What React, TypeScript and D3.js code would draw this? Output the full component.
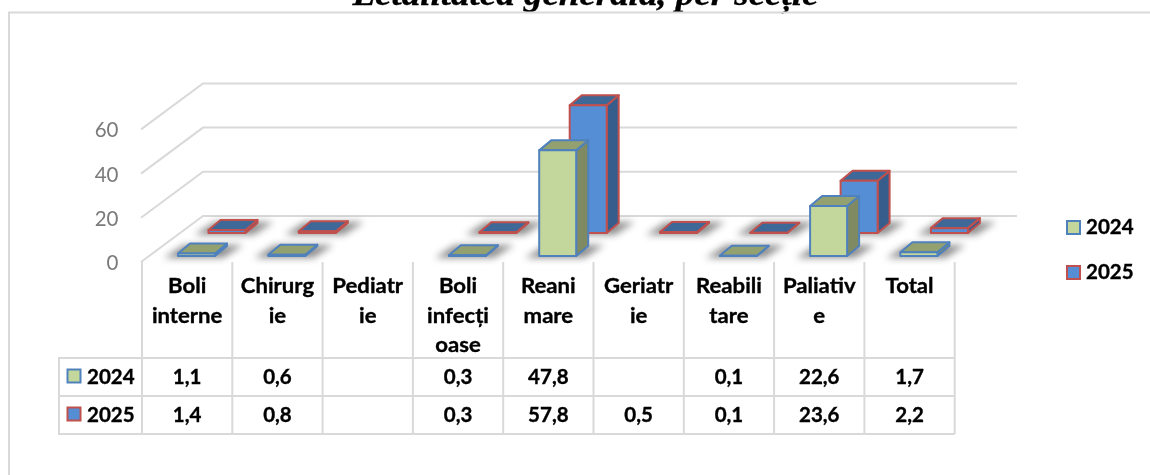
import React from "react";
import * as d3 from "d3";

const categories = ["Boli interne","Chirurgie","Pediatrie","Boli infecțioase","Reanimare","Geriatrie","Reabilitare","Paliative","Total"];
const headerLines = [["Boli","interne"],["Chirurg","ie"],["Pediatr","ie"],["Boli","infecți","oase"],["Reani","mare"],["Geriatr","ie"],["Reabili","tare"],["Paliativ","e"],["Total"]];
const values2024: (number|null)[] = [1.1,0.6,null,0.3,47.8,null,0.1,22.6,1.7];
const values2025: (number|null)[] = [1.4,0.8,null,0.3,57.8,0.5,0.1,23.6,2.2];
const yTicks = [0,20,40,60];
const titleText = "Letalitatea generală, per secție";

const W = 1150, H = 475;
const font = "Lato, Carlito, sans-serif";
const lineC = "#d9d9d9";
const x = d3.scaleBand<string>().domain(categories).range([142, 142 + 90.3 * 9]);
const h = d3.scaleLinear().domain([0, 60]).range([0, 132.6]);
const DX = 12, DY = -10, BW = 37;

const seriesStyle = [
  { name: "2025", values: values2025, off: 66.5, base: 233, front: "#558ed5", side: "#375d8c", top: "#3e6898", stroke: "#c0504d" },
  { name: "2024", values: values2024, off: 36, base: 256, front: "#c3d69b", side: "#7f8a62", top: "#93a070", stroke: "#4f81bd" },
];
const legendOrder = [seriesStyle[1], seriesStyle[0]];
const fmt = (v: number | null) => (v == null ? "" : String(v).replace(".", ","));
const poly = (p: number[][]) => p.map(q => q.join(",")).join(" ");

export default function App() {
  const floorFront = 262, floorBack = 216, wallL = 141, wallB = 203, wallR = 1017;
  return (
    <svg width={W} height={H} style={{ position: "absolute", left: 0, top: 0, background: "#fff", filter: "blur(0.35px)" }}>
      <defs>
        <filter id="sh" x="-50%" y="-100%" width="200%" height="300%"><feGaussianBlur stdDeviation="3.5" /></filter>
      </defs>
      <text x={585.5} y={5} textAnchor="middle" fontFamily="'Liberation Serif', serif" fontWeight="bold" fontStyle="italic" fontSize={33} textLength={466} lengthAdjust="spacingAndGlyphs" stroke="#000" strokeWidth={0.3}>{titleText}</text>
      <path d={`M9 ${H}V12.5H${W}`} fill="none" stroke={lineC} strokeWidth={2} />

      {yTicks.map(t => {
        const dy = h(t);
        return (
          <g key={t}>
            <polyline points={poly([[wallL, floorFront - dy], [wallB, floorBack - dy], [wallR, floorBack - dy]])} fill="none" stroke={lineC} strokeWidth={2} />
            <text x={118.5} y={floorFront - dy + 8} textAnchor="end" fontFamily={font} fontSize={20.5} fill="#7a7a7a">{t}</text>
          </g>
        );
      })}

      {seriesStyle.map(s => s.values.map((v, i) => {
        if (v == null) return null;
        const x0 = x(categories[i])! + s.off;
        return <polygon key={s.name + i} filter="url(#sh)" fill="#555" opacity={0.65}
          points={poly([[x0 - 14, s.base + 2], [x0 + BW + 8, s.base + 2], [x0 + BW + DX + 16, s.base + DY - 1], [x0 + 6, s.base + DY - 1]])} />;
      }))}

      {seriesStyle.map(s => s.values.map((v, i) => {
        if (v == null) return null;
        const x0 = x(categories[i])! + s.off;
        const y1 = s.base, y0 = s.base - h(v);
        const common = { stroke: s.stroke, strokeWidth: 2, strokeLinejoin: "round" as const };
        return (
          <g key={s.name + i}>
            <polygon points={poly([[x0 + BW, y0], [x0 + BW + DX, y0 + DY], [x0 + BW + DX, y1 + DY], [x0 + BW, y1]])} fill={s.side} {...common} />
            <polygon points={poly([[x0, y0], [x0 + DX, y0 + DY], [x0 + BW + DX, y0 + DY], [x0 + BW, y0]])} fill={s.top} {...common} />
            <rect x={x0} y={y0} width={BW} height={y1 - y0} fill={s.front} {...common} />
          </g>
        );
      }))}

      <g stroke={lineC} strokeWidth={2}>
        {d3.range(categories.length + 1).map(i => (
          <line key={i} x1={142 + x.step() * i} x2={142 + x.step() * i} y1={262} y2={434} />
        ))}
        <line x1={59} x2={59} y1={358} y2={434} />
        {[358, 396, 434].map(y => <line key={y} x1={58} x2={142 + x.step() * 9} y1={y} y2={y} />)}
      </g>
      <g fontFamily={font} fontWeight="bold" fontSize={20.5} fill="#000" stroke="#000" strokeWidth={0.35} textAnchor="middle">
        {headerLines.map((lines, i) => lines.map((l, j) => {
          const cx = x(categories[i])! + x.bandwidth() / 2;
          return (
            <text key={i + "-" + j} transform={`translate(${cx},${293 + j * 29.5}) scale(1.08,1)`} fontSize={20.5}>{l}</text>
          );
        }))}
        {legendOrder.map((s, r) => (
          <g key={s.name}>
            {s.values.map((v, i) => (
              <text key={i} x={x(categories[i])! + x.bandwidth() / 2} y={384 + r * 38}>{fmt(v)}</text>
            ))}
            <rect x={67.5} y={369.5 + r * 38} width={13} height={13} fill={s.front} stroke={s.stroke} strokeWidth={2} />
            <text x={87} y={384 + r * 38} textAnchor="start">{s.name}</text>
            <rect x={1067} y={221 + r * 45} width={13} height={13} fill={s.front} stroke={s.stroke} strokeWidth={2} />
            <text x={1086} y={234 + r * 45} textAnchor="start">{s.name}</text>
          </g>
        ))}
      </g>
    </svg>
  );
}
